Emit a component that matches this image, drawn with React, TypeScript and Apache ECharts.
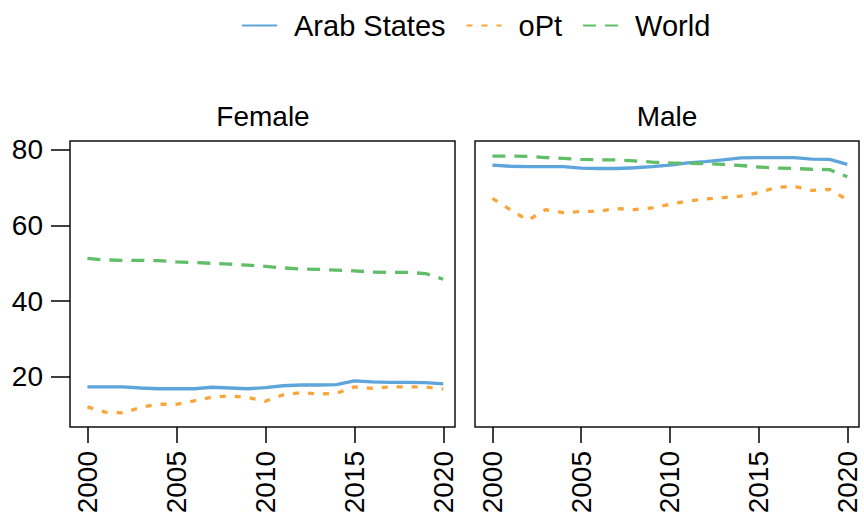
import React, { useEffect, useRef } from "react";
import * as echarts from "echarts";

const years = [2000, 2001, 2002, 2003, 2004, 2005, 2006, 2007, 2008, 2009, 2010, 2011, 2012, 2013, 2014, 2015, 2016, 2017, 2018, 2019, 2020];
const xTicks = [2000, 2005, 2010, 2015, 2020];
const yTicks = [20, 40, 60, 80];
const seriesNames = ["Arab States", "oPt", "World"];
const panelTitles = ["Female", "Male"];

const femaleArab = [17.3, 17.3, 17.3, 17.0, 16.8, 16.8, 16.8, 17.2, 17.0, 16.8, 17.1, 17.6, 17.8, 17.8, 17.9, 18.9, 18.6, 18.5, 18.5, 18.4, 18.1];
const femaleOpt = [12.0, 10.6, 10.4, 11.9, 12.7, 12.7, 13.6, 14.6, 14.9, 14.5, 13.5, 15.2, 15.8, 15.4, 15.6, 17.3, 16.9, 17.3, 17.3, 17.3, 16.7];
const femaleWorld = [51.3, 50.9, 50.8, 50.8, 50.7, 50.4, 50.2, 50.0, 49.8, 49.5, 49.2, 48.8, 48.5, 48.4, 48.2, 48.0, 47.7, 47.6, 47.6, 47.3, 45.8];

const maleArab = [76.0, 75.7, 75.6, 75.6, 75.6, 75.2, 75.1, 75.1, 75.3, 75.6, 76.0, 76.6, 76.9, 77.4, 77.9, 78.0, 78.0, 78.0, 77.6, 77.5, 76.2];
const maleOpt = [67.2, 64.2, 61.4, 64.2, 63.4, 63.7, 63.8, 64.5, 64.2, 64.7, 65.6, 66.5, 67.0, 67.4, 67.8, 68.7, 70.1, 70.4, 69.3, 69.6, 66.8];
const maleWorld = [78.4, 78.4, 78.3, 78.0, 77.8, 77.5, 77.4, 77.4, 77.1, 76.8, 76.6, 76.5, 76.4, 76.2, 75.9, 75.5, 75.2, 75.1, 74.9, 74.8, 72.9];

const FONT = "Liberation Sans, Arial, sans-serif";
const colors = ["#5DA5DA", "#FAA43A", "#60BD68"];
const dashes: any[] = ["solid", [6, 9], [13, 9]];

export default function App() {
  const ref = useRef<HTMLDivElement>(null);
  useEffect(() => {
    if (!ref.current) return;
    const chart = echarts.init(ref.current, null, { renderer: "svg" });
    const panels = [
      [femaleArab, femaleOpt, femaleWorld],
      [maleArab, maleOpt, maleWorld],
    ];
    const series: any[] = [];
    panels.forEach((p, gi) => {
      p.forEach((vals, si) => {
        series.push({
          type: "line",
          name: seriesNames[si],
          xAxisIndex: gi,
          yAxisIndex: gi,
          data: years.map((y, i) => [y, vals[i]]),
          symbol: "none",
          showSymbol: false,
          color: colors[si],
          lineStyle: { color: colors[si], width: 3.3, type: dashes[si] },
        });
      });
    });
    const xAxisBase = (gi: number) => ({
      type: "value",
      gridIndex: gi,
      min: 1999.02,
      max: 2020.66,
      axisLine: { show: false },
      splitLine: { show: false },
      axisTick: {
        show: true,
        length: 16,
        customValues: xTicks,
        lineStyle: { color: "#000", width: 1.5 },
      },
      axisLabel: {
        show: true,
        customValues: xTicks,
        formatter: (v: number) => String(v),
        rotate: 90,
        margin: 24,
        fontSize: 28,
        color: "#000",
        fontFamily: FONT,
      },
    });
    chart.setOption({
      animation: false,
      backgroundColor: "#fff",
      legend: {
        data: seriesNames,
        left: 236,
        top: 6,
        itemWidth: 35,
        itemHeight: 14,
        itemGap: 20,
        itemStyle: { opacity: 0 },
        textStyle: { fontSize: 29, color: "#000", fontFamily: FONT, padding: [0, 0, 0, 12] },
      },
      graphic: panelTitles.map((t, i) => ({
        type: "text",
        x: i === 0 ? 263 : 667,
        y: 116,
        style: {
          text: t,
          align: "center",
          verticalAlign: "middle",
          fontSize: 28,
          fill: "#000",
          fontFamily: FONT,
        },
      })),
      grid: [
        { left: 70, top: 141, width: 385, height: 286, show: true, borderColor: "#111", borderWidth: 1.5, backgroundColor: "transparent", outerBoundsMode: "none", containLabel: false },
        { left: 475, top: 141, width: 384, height: 286, show: true, borderColor: "#111", borderWidth: 1.5, backgroundColor: "transparent", outerBoundsMode: "none", containLabel: false },
      ],
      xAxis: [xAxisBase(0), xAxisBase(1)],
      yAxis: [
        {
          type: "value",
          gridIndex: 0,
          min: 6.68,
          max: 82.38,
          axisLine: { show: false },
          splitLine: { show: false },
          axisTick: { show: true, length: 19, customValues: yTicks, lineStyle: { color: "#000", width: 1.5 } },
          axisLabel: { show: true, customValues: yTicks, margin: 27, fontSize: 28, color: "#000", fontFamily: FONT },
        },
        {
          type: "value",
          gridIndex: 1,
          min: 6.68,
          max: 82.38,
          axisLine: { show: false },
          splitLine: { show: false },
          axisTick: { show: false },
          axisLabel: { show: false },
        },
      ],
      series,
    });
    return () => chart.dispose();
  }, []);
  return (
    <div
      ref={ref}
      style={{ position: "fixed", left: 0, top: 0, width: 864, height: 515, background: "#fff" }}
    />
  );
}
